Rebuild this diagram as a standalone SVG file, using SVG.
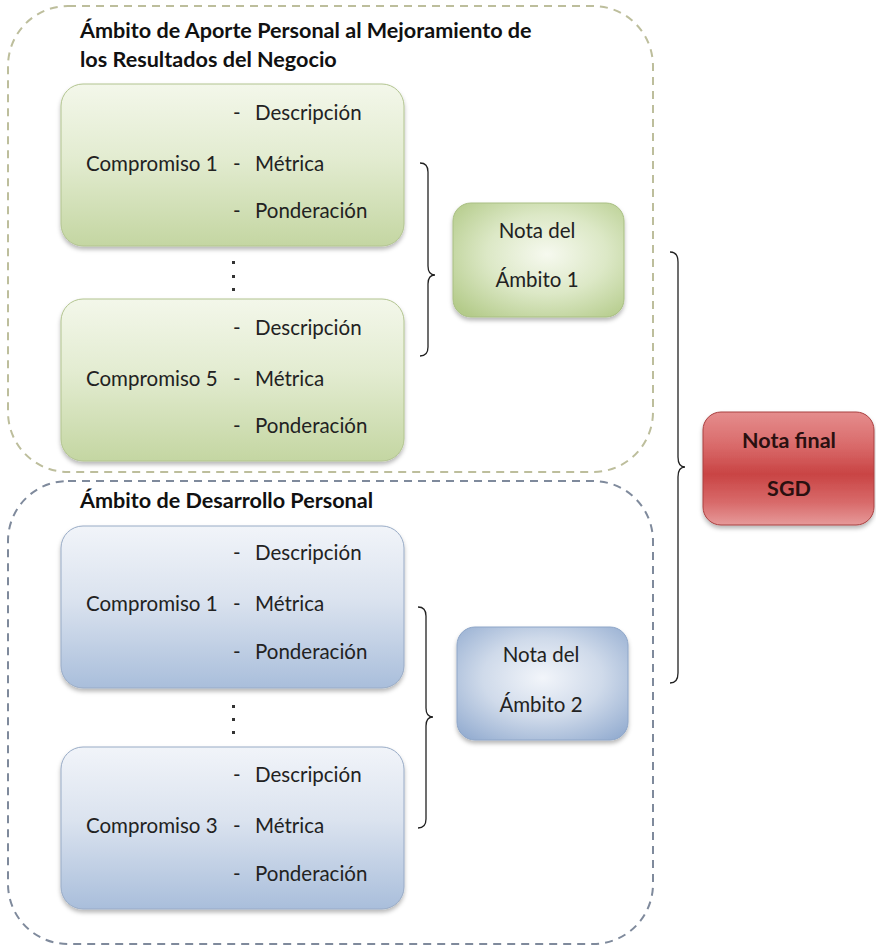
<svg xmlns="http://www.w3.org/2000/svg" width="876" height="946" viewBox="0 0 876 946">
  <defs>
    <linearGradient id="gGreen" x1="0" y1="0" x2="0" y2="1">
      <stop offset="0" stop-color="#f3f7ea"/>
      <stop offset="0.45" stop-color="#e3ecd1"/>
      <stop offset="1" stop-color="#c4d6a2"/>
    </linearGradient>
    <linearGradient id="gBlue" x1="0" y1="0" x2="0" y2="1">
      <stop offset="0" stop-color="#f1f4f9"/>
      <stop offset="0.45" stop-color="#dbe3ef"/>
      <stop offset="1" stop-color="#a9bedb"/>
    </linearGradient>
    <radialGradient id="gGreenNote" cx="0.55" cy="0.45" r="0.7">
      <stop offset="0" stop-color="#f6f9ef"/>
      <stop offset="0.5" stop-color="#dce8c6"/>
      <stop offset="1" stop-color="#b4cb8a"/>
    </radialGradient>
    <radialGradient id="gBlueNote" cx="0.5" cy="0.45" r="0.7">
      <stop offset="0" stop-color="#f2f5fa"/>
      <stop offset="0.5" stop-color="#cfdaea"/>
      <stop offset="1" stop-color="#93acd0"/>
    </radialGradient>
    <linearGradient id="gRed" x1="0" y1="0" x2="0" y2="1">
      <stop offset="0" stop-color="#e58d8d"/>
      <stop offset="0.3" stop-color="#d96a6a"/>
      <stop offset="0.55" stop-color="#c94444"/>
      <stop offset="0.8" stop-color="#d86a6a"/>
      <stop offset="1" stop-color="#e69a9a"/>
    </linearGradient>
    <filter id="shadow" x="-10%" y="-10%" width="120%" height="130%">
      <feDropShadow dx="0" dy="3" stdDeviation="2" flood-color="#000" flood-opacity="0.28"/>
    </filter>
    <style>
      .area1 { fill: none; stroke: #bdbe9c; stroke-width: 2; stroke-dasharray: 8 6; }
      .area2 { fill: none; stroke: #7f8a9c; stroke-width: 2; stroke-dasharray: 8 6; }
      .green { fill: url(#gGreen); stroke: #b2c48f; stroke-width: 1; filter: url(#shadow); }
      .blue { fill: url(#gBlue); stroke: #98abc6; stroke-width: 1; filter: url(#shadow); }
      .noteG { fill: url(#gGreenNote); stroke: #a9bf83; stroke-width: 1; filter: url(#shadow); }
      .noteB { fill: url(#gBlueNote); stroke: #8ea6c8; stroke-width: 1; filter: url(#shadow); }
      .noteR { fill: url(#gRed); stroke: #a94040; stroke-width: 1; filter: url(#shadow); }
      .title { font-family: Lato, "Open Sans", "Liberation Sans", sans-serif; font-weight: bold; font-size: 21.6px; fill: #111; }
      .txt { font-family: Lato, "Open Sans", "Liberation Sans", sans-serif; font-size: 20.5px; fill: #222; }
      .mid { text-anchor: middle; }
      .bold { font-weight: bold; font-size: 21.5px; fill: #2a1010; }
      .brace { fill: none; stroke: #222; stroke-width: 1.3; }
      .dot { fill: #333; }
    </style>
  </defs>

  <rect width="876" height="946" fill="#ffffff"/>

  <!-- dashed areas -->
  <g id="area-aporte">
    <rect class="area1" x="8" y="6" width="645" height="466" rx="60" ry="60"/>
    <text class="title" x="80" y="38">Ámbito de Aporte Personal al Mejoramiento de</text>
    <text class="title" x="80" y="67">los Resultados del Negocio</text>
  </g>
  <g id="area-desarrollo">
    <rect class="area2" x="8" y="481" width="645" height="463" rx="60" ry="60"/>
    <text class="title" x="80" y="508">Ámbito de Desarrollo Personal</text>
  </g>

  <!-- commitment boxes, area 1 -->
  <g id="a1-compromiso1">
    <rect class="green" x="61" y="84" width="343" height="162" rx="22" ry="22"/>
    <text class="txt" x="233" y="120">-</text><text class="txt" x="255" y="120">Descripción</text>
    <text class="txt" x="86" y="171">Compromiso 1</text><text class="txt" x="233" y="171">-</text><text class="txt" x="255" y="171">Métrica</text>
    <text class="txt" x="233" y="218">-</text><text class="txt" x="255" y="218">Ponderación</text>
  </g>
  <g id="a1-dots">
    <rect class="dot" x="232" y="261" width="3" height="3"/>
    <rect class="dot" x="232" y="275" width="3" height="3"/>
    <rect class="dot" x="232" y="288" width="3" height="3"/>
  </g>
  <g id="a1-compromiso5">
    <rect class="green" x="61" y="299" width="343" height="162" rx="22" ry="22"/>
    <text class="txt" x="233" y="335">-</text><text class="txt" x="255" y="335">Descripción</text>
    <text class="txt" x="86" y="386">Compromiso 5</text><text class="txt" x="233" y="386">-</text><text class="txt" x="255" y="386">Métrica</text>
    <text class="txt" x="233" y="433">-</text><text class="txt" x="255" y="433">Ponderación</text>
  </g>

  <!-- commitment boxes, area 2 -->
  <g id="a2-compromiso1">
    <rect class="blue" x="61" y="526" width="343" height="162" rx="22" ry="22"/>
    <text class="txt" x="233" y="560">-</text><text class="txt" x="255" y="560">Descripción</text>
    <text class="txt" x="86" y="611">Compromiso 1</text><text class="txt" x="233" y="611">-</text><text class="txt" x="255" y="611">Métrica</text>
    <text class="txt" x="233" y="659">-</text><text class="txt" x="255" y="659">Ponderación</text>
  </g>
  <g id="a2-dots">
    <rect class="dot" x="232" y="705" width="3" height="3"/>
    <rect class="dot" x="232" y="718" width="3" height="3"/>
    <rect class="dot" x="232" y="731" width="3" height="3"/>
  </g>
  <g id="a2-compromiso3">
    <rect class="blue" x="61" y="747" width="343" height="162" rx="22" ry="22"/>
    <text class="txt" x="233" y="782">-</text><text class="txt" x="255" y="782">Descripción</text>
    <text class="txt" x="86" y="833">Compromiso 3</text><text class="txt" x="233" y="833">-</text><text class="txt" x="255" y="833">Métrica</text>
    <text class="txt" x="233" y="881">-</text><text class="txt" x="255" y="881">Ponderación</text>
  </g>

  <!-- score boxes -->
  <g id="nota-ambito1">
    <rect class="noteG" x="453" y="203" width="171" height="114" rx="18" ry="18"/>
    <text class="txt mid" x="537" y="238">Nota del</text>
    <text class="txt mid" x="537" y="287">Ámbito 1</text>
  </g>
  <g id="nota-ambito2">
    <rect class="noteB" x="457" y="627" width="171" height="113" rx="18" ry="18"/>
    <text class="txt mid" x="541" y="662">Nota del</text>
    <text class="txt mid" x="541" y="712">Ámbito 2</text>
  </g>
  <g id="nota-final">
    <rect class="noteR" x="703" y="412" width="171" height="113" rx="18" ry="18"/>
    <text class="txt mid bold" x="789" y="448">Nota final</text>
    <text class="txt mid bold" x="789" y="496">SGD</text>
  </g>

  <!-- braces -->
  <g id="connectors">
    <path class="brace" d="M420,163 Q428,163 428,172 L428,266 Q428,275 435,275 Q428,275 428,284 L428,347 Q428,356 420,356"/>
    <path class="brace" d="M418,607 Q426,607 426,616 L426,708 Q426,717 433,717 Q426,717 426,726 L426,819 Q426,828 418,828"/>
    <path class="brace" d="M670,252 Q678,252 678,262 L678,457 Q678,467 685,467 Q678,467 678,477 L678,673 Q678,683 670,683"/>
  </g>
</svg>
